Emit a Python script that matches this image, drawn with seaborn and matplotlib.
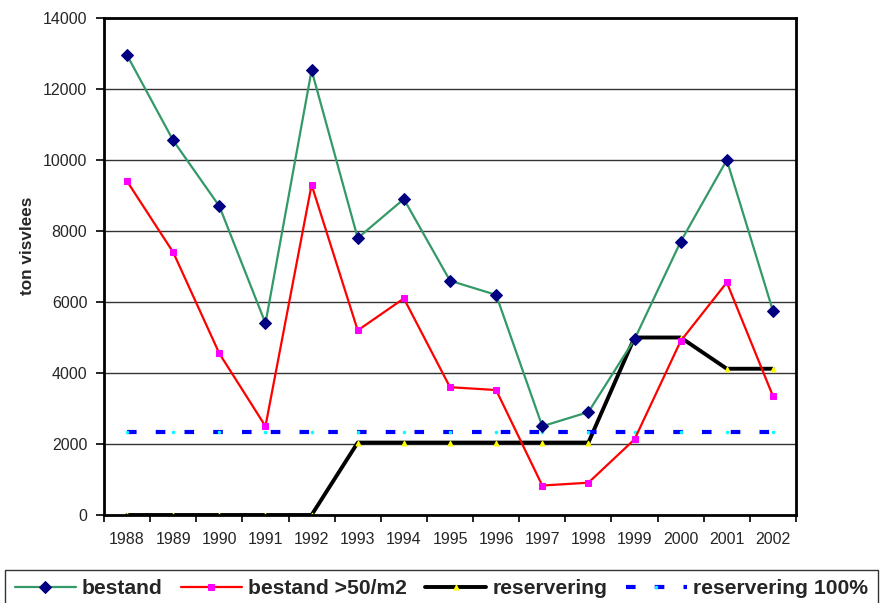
import numpy as np
import pandas as pd
import seaborn as sns
import matplotlib.pyplot as plt
from matplotlib.ticker import MultipleLocator

years = [1988, 1989, 1990, 1991, 1992, 1993, 1994, 1995, 1996, 1997, 1998, 1999, 2000, 2001, 2002]
bestand = [12950, 10550, 8700, 5400, 12530, 7800, 8900, 6600, 6200, 2500, 2900, 4950, 7700, 10000, 5750]
bestand_50 = [9400, 7400, 4550, 2500, 9300, 5200, 6100, 3600, 3520, 830, 910, 2130, 4900, 6550, 3350]
reservering = [0, 0, 0, 0, 0, 2040, 2040, 2040, 2040, 2040, 2040, 5000, 5000, 4120, 4120]
reservering_100 = [2330] * 15


def main():
    sns.set_style("white")
    plt.rcParams['font.family'] = ['Liberation Sans', 'DejaVu Sans']

    df = pd.DataFrame({
        "pos": np.arange(len(years)),
        "bestand": bestand,
        "bestand >50/m2": bestand_50,
        "reservering": reservering,
        "reservering 100%": reservering_100,
    })

    fig = plt.figure(figsize=(8.8, 6.03), dpi=100)
    ax = fig.add_axes([104 / 880, 1 - 515 / 603, 692 / 880, 497 / 603])

    # gridlines under the series
    for v in range(2000, 14000, 2000):
        ax.axhline(v, color="#333333", lw=1.0, zorder=0)

    sns.lineplot(data=df, x="pos", y="bestand", ax=ax, color="#339966", lw=1.6,
                 marker="D", markersize=6.5, markerfacecolor="#000080",
                 markeredgecolor="#000080", label="bestand", zorder=3)
    sns.lineplot(data=df, x="pos", y="bestand >50/m2", ax=ax, color="#FF0000", lw=1.6,
                 marker="s", markersize=4.5, markerfacecolor="#FF00FF",
                 markeredgecolor="#FF00FF", label="bestand >50/m2", zorder=3)
    sns.lineplot(data=df, x="pos", y="reservering", ax=ax, color="black", lw=2.8,
                 marker="^", markersize=3.5, markerfacecolor="#FFFF00",
                 markeredgecolor="#FFFF00", label="reservering", zorder=2)
    sns.lineplot(data=df, x="pos", y="reservering 100%", ax=ax, color="#0000FF", lw=3.0,
                 marker="o", markersize=1.8,
                 markerfacecolor="#00FFFF", markeredgecolor="#00FFFF",
                 label="reservering 100%", zorder=2)
    ax.lines[-1].set_dashes((2.3, 4.6))

    ax.set_xlim(-0.5, len(years) - 0.5)
    ax.set_ylim(0, 14000)
    ax.yaxis.set_major_locator(MultipleLocator(2000))

    # labels at category centres, ticks at category boundaries
    ax.set_xticks(np.arange(len(years)))
    ax.set_xticklabels([str(y) for y in years])
    ax.set_xticks(np.arange(len(years) + 1) - 0.5, minor=True)
    ax.tick_params(axis="x", which="major", length=0, pad=12, labelsize=11.5)
    ax.tick_params(axis="x", which="minor", length=5, width=1.2, direction="out",
                   bottom=True, color="black")
    ax.tick_params(axis="y", length=6, width=1.2, direction="out", left=True,
                   pad=6, labelsize=11.5, color="black")

    for s in ax.spines.values():
        s.set_visible(True)
        s.set_color("black")
        s.set_linewidth(2.0)

    ax.set_xlabel("")
    ax.set_ylabel("ton visvlees", fontsize=12.3, fontweight="bold")
    ax.yaxis.set_label_coords(-0.100, 0.541)

    ax.get_legend().remove()
    handles, labels = ax.get_legend_handles_labels()
    leg = fig.legend(handles, labels, loc="upper left",
                     bbox_to_anchor=(5 / 880, 1 - 570 / 603), ncol=4,
                     frameon=True, fancybox=False, edgecolor="black",
                     handlelength=2.9, handletextpad=0.3, columnspacing=0.85,
                     borderpad=0.45, borderaxespad=0.0,
                     prop={"size": 15.2, "weight": "bold"})
    leg.get_frame().set_linewidth(1.0)

    fig.savefig("out.png", dpi=100)
    plt.close(fig)


if __name__ == "__main__":
    main()
